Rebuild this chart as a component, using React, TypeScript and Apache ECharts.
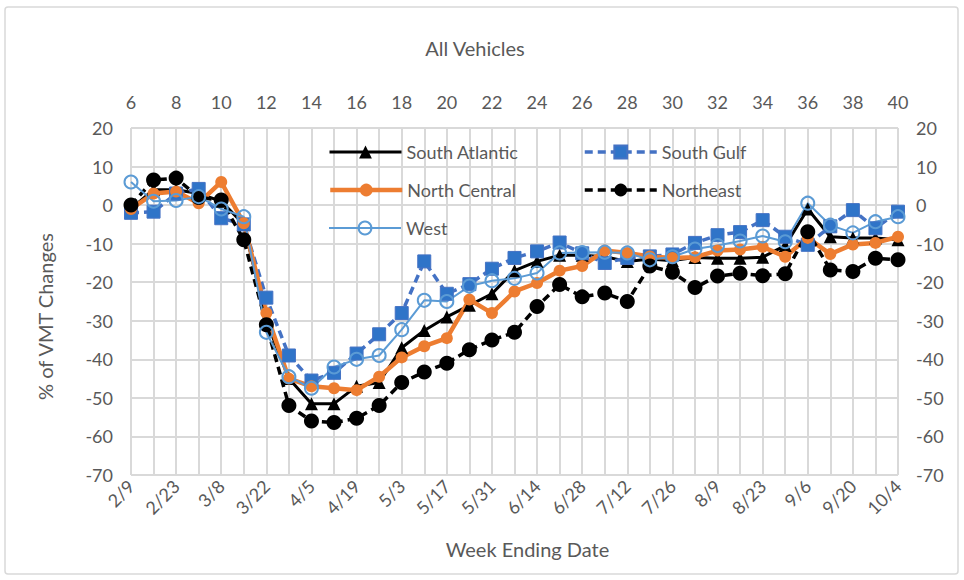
import React, { useEffect, useRef } from "react";
import * as echarts from "echarts";

const dates = ["2/9","2/16","2/23","3/1","3/8","3/15","3/22","3/29","4/5","4/12","4/19","4/26","5/3","5/10","5/17","5/24","5/31","6/7","6/14","6/21","6/28","7/5","7/12","7/19","7/26","8/2","8/9","8/16","8/23","8/30","9/6","9/13","9/20","9/27","10/4"];
const weeks = ["6","7","8","9","10","11","12","13","14","15","16","17","18","19","20","21","22","23","24","25","26","27","28","29","30","31","32","33","34","35","36","37","38","39","40"];

const southAtlantic = [-1, 4, 4, 3, 1, -5, -30, -45, -51.5, -51.5, -47, -46, -37, -32.5, -29, -26, -23, -17, -14.6, -13, -13, -13.4, -14.6, -14, -14.4, -13.6, -13.8, -13.8, -13.5, -10.5, -1, -8.2, -8.5, -8.5, -9];
const southGulf = [-2, -1.7, 3, 4.2, -3.4, -5, -24, -39, -45.5, -43.5, -38.5, -33.5, -28, -14.6, -23, -20.5, -16.5, -13.7, -12, -9.7, -12.5, -15, -13.7, -13.3, -12.8, -9.8, -7.8, -7, -3.9, -8.2, -10.3, -5.5, -1.3, -6, -1.7];
const northCentral = [-1, 3, 3.5, 0.5, 6, -4.7, -28, -45, -47, -47.5, -48, -44.5, -39.5, -36.6, -34.5, -24.5, -28, -22.4, -20.2, -17, -15.8, -11.8, -12.4, -13.3, -13.7, -13.5, -11.8, -11.5, -10.8, -13.4, -8.5, -12.7, -10.2, -9.8, -8.2];
const northeast = [0, 6.5, 7, 2, 1.3, -9, -31, -52, -56, -56.4, -55.3, -52, -46, -43.3, -41, -37.5, -35, -33, -26.3, -20.6, -23.8, -22.8, -25, -15.8, -17.4, -21.4, -18.4, -17.7, -18.3, -17.8, -6.9, -16.8, -17.2, -13.8, -14.2];
const west = [6, 1, 1.2, 2.2, -1, -3, -33, -44.5, -47.5, -42, -40, -39, -32.3, -24.7, -25, -21, -19.6, -19, -17.6, -12.4, -12.3, -12.2, -12.4, -14.2, -13.4, -11.4, -10.5, -9.3, -8, -9.5, 0.5, -5.2, -7.2, -4.3, -3];

const FONT = "Lato, 'Liberation Sans', sans-serif";
const TXT = "#595959";
const GRID = "#D9D9D9";

export default function App() {
  const ref = useRef<HTMLDivElement>(null);
  useEffect(() => {
    if (!ref.current) return;
    const chart = echarts.init(ref.current, null, { renderer: "svg" });
    const legendBase = (name: string, left: number, top: number, lw: number, dash?: number[]) => ({
      data: [name],
      left,
      top,
      itemWidth: 72,
      itemHeight: 16,
      itemGap: 0,
      lineStyle: dash ? { width: lw, type: dash } : { width: lw },
      textStyle: { fontSize: 18, color: TXT, fontFamily: FONT },
      backgroundColor: "transparent",
    });
    chart.setOption({
      animation: false,
      backgroundColor: "#fff",
      textStyle: { fontFamily: FONT },
      title: {
        text: "All Vehicles",
        left: 470,
        textAlign: "center",
        top: 33,
        textStyle: { fontSize: 20, fontWeight: "normal", color: TXT, fontFamily: FONT },
      },
      graphic: [
        {
          type: "rect",
          shape: { x: 5, y: 7, width: 953, height: 567, r: 3 },
          style: { fill: "none", stroke: GRID, lineWidth: 1.5 },
          silent: true,
        },
      ],
      legend: [
        legendBase("South Atlantic", 323, 138, 3),
        legendBase("South Gulf", 578, 138, 3.5, [8, 5]),
        legendBase("North Central", 323, 176, 4.5),
        legendBase("Northeast", 578, 176, 3.5, [8, 5]),
        legendBase("West", 323, 214, 2),
      ],
      grid: { left: 131, right: 66, top: 128, bottom: 105, containLabel: false },
      xAxis: [
        {
          type: "category",
          data: dates,
          boundaryGap: false,
          position: "bottom",
          axisLine: { show: true, lineStyle: { color: GRID, width: 2 } },
          axisTick: { show: true, interval: 0, length: 5, lineStyle: { color: GRID, width: 1.5 } },
          axisLabel: { interval: 1, rotate: 45, fontSize: 18, color: TXT, margin: 8, fontFamily: FONT },
          splitLine: { show: true, interval: 0, lineStyle: { color: GRID, width: 2 } },
          name: "Week Ending Date",
          nameLocation: "middle",
          nameGap: 64,
          nameTextStyle: { fontSize: 20, color: TXT, fontFamily: FONT, padding: [0, 0, 0, 26] },
        },
        {
          type: "category",
          data: weeks,
          boundaryGap: false,
          position: "top",
          axisLine: { show: false },
          axisTick: { show: false },
          axisLabel: { interval: 1, fontSize: 18, color: TXT, margin: 17, fontFamily: FONT },
          splitLine: { show: false },
        },
      ],
      yAxis: [
        {
          type: "value",
          min: -70,
          max: 20,
          interval: 10,
          position: "left",
          axisLine: { show: false },
          axisTick: { show: false },
          axisLabel: { fontSize: 18, color: TXT, margin: 18, fontFamily: FONT },
          splitLine: { show: true, lineStyle: { color: GRID, width: 2 } },
          name: "% of VMT Changes",
          nameLocation: "middle",
          nameGap: 76,
          nameTextStyle: { fontSize: 20, color: TXT, fontFamily: FONT, padding: [0, 30, 0, 0] },
        },
        {
          type: "value",
          min: -70,
          max: 20,
          interval: 10,
          position: "right",
          axisLine: { show: false },
          axisTick: { show: false },
          axisLabel: { fontSize: 18, color: TXT, margin: 18, fontFamily: FONT },
          splitLine: { show: false },
        },
      ],
      series: [
        {
          name: "South Atlantic",
          type: "line",
          data: southAtlantic,
          symbol: "triangle",
          symbolSize: 13,
          showAllSymbol: true,
          lineStyle: { color: "#000", width: 3 },
          itemStyle: { color: "#000" },
        },
        {
          name: "South Gulf",
          type: "line",
          data: southGulf,
          symbol: "rect",
          symbolSize: 13,
          showAllSymbol: true,
          lineStyle: { color: "#4472C4", width: 3.5, type: [8, 5] },
          itemStyle: { color: "#2F74C8", borderColor: "#4472C4", borderWidth: 1 },
        },
        {
          name: "North Central",
          type: "line",
          data: northCentral,
          symbol: "circle",
          symbolSize: 12,
          showAllSymbol: true,
          lineStyle: { color: "#ED7D31", width: 4.5 },
          itemStyle: { color: "#ED7D31" },
        },
        {
          name: "Northeast",
          type: "line",
          data: northeast,
          symbol: "circle",
          symbolSize: 15,
          showAllSymbol: true,
          lineStyle: { color: "#000", width: 3.5, type: [8, 5] },
          itemStyle: { color: "#000" },
        },
        {
          name: "West",
          type: "line",
          data: west,
          symbol: "circle",
          symbolSize: 13,
          showAllSymbol: true,
          lineStyle: { color: "#5B9BD5", width: 2 },
          itemStyle: { color: "rgba(255,255,255,0)", borderColor: "#5B9BD5", borderWidth: 2 },
        },
      ],
    });
    return () => chart.dispose();
  }, []);
  return (
    <div
      ref={ref}
      style={{ position: "absolute", left: 0, top: 0, width: 964, height: 580 }}
    />
  );
}
